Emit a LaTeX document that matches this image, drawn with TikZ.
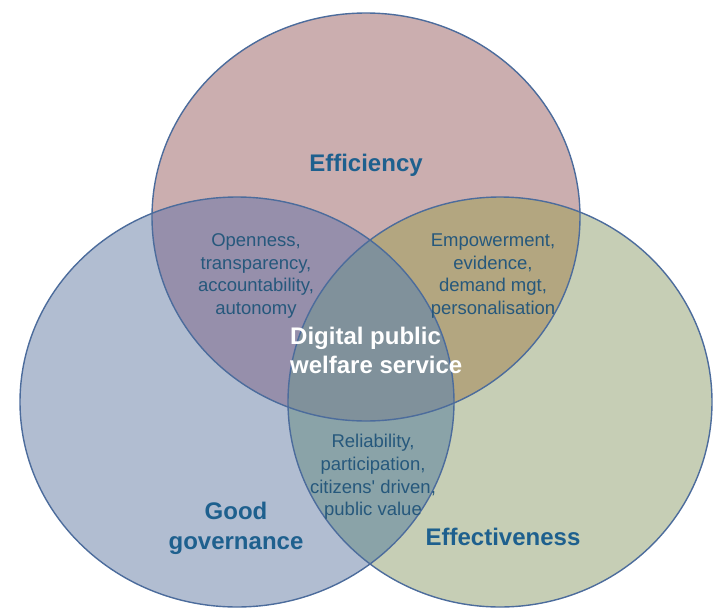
\documentclass[tikz,border=0pt]{standalone}
\usepackage{fontspec}
\setmainfont{Liberation Sans}
\definecolor{cT}{RGB}{203,174,175}
\definecolor{cL}{RGB}{177,189,209}
\definecolor{cR}{RGB}{198,206,181}
\definecolor{cTL}{RGB}{150,143,171}
\definecolor{cTR}{RGB}{179,166,128}
\definecolor{cLR}{RGB}{138,163,168}
\definecolor{cC}{RGB}{128,145,155}
\definecolor{edge}{RGB}{76,108,156}
\definecolor{head}{RGB}{30,96,142}
\definecolor{small}{RGB}{38,88,124}
\tikzset{
  outline/.style={draw=edge, line width=1.4pt},
  headtxt/.style={text=head, font=\fontsize{24}{30}\selectfont\bfseries, align=center, inner sep=0pt},
  smalltxt/.style={text=small, font=\fontsize{18.5}{22.6}\selectfont, align=center, inner sep=0pt},
  centertxt/.style={text=white, font=\fontsize{24}{29}\selectfont\bfseries, align=left, inner sep=0pt}
}
\begin{document}
\begin{tikzpicture}[x=1pt,y=-1pt]
\useasboundingbox (0,0) rectangle (713,608);
% base fills
\fill[cT] (366,217) ellipse [x radius=214, y radius=204];
\fill[cL] (237,402) ellipse [x radius=217, y radius=205];
\fill[cR] (500,402) ellipse [x radius=212, y radius=205];
% pairwise overlaps
\begin{scope}
  \clip (366,217) ellipse [x radius=214, y radius=204];
  \fill[cTL] (237,402) ellipse [x radius=217, y radius=205];
\end{scope}
\begin{scope}
  \clip (366,217) ellipse [x radius=214, y radius=204];
  \fill[cTR] (500,402) ellipse [x radius=212, y radius=205];
\end{scope}
\begin{scope}
  \clip (237,402) ellipse [x radius=217, y radius=205];
  \fill[cLR] (500,402) ellipse [x radius=212, y radius=205];
\end{scope}
\begin{scope}
  \clip (366,217) ellipse [x radius=214, y radius=204];
  \clip (237,402) ellipse [x radius=217, y radius=205];
  \fill[cC] (500,402) ellipse [x radius=212, y radius=205];
\end{scope}
% outlines
\draw[outline] (366,217) ellipse [x radius=214, y radius=204];
\draw[outline] (237,402) ellipse [x radius=217, y radius=205];
\draw[outline] (500,402) ellipse [x radius=212, y radius=205];
% labels
\node[headtxt] (eff) at (366,165) {Efficiency};
\node[headtxt] (gov) at (236,528) {Good\\governance};
\node[headtxt] (effect) at (503,537) {Effectiveness};
\node[smalltxt] (open) at (256,276) {Openness,\\transparency,\\accountability,\\autonomy};
\node[smalltxt] (emp) at (493,276) {Empowerment,\\evidence,\\demand mgt,\\personalisation};
\node[smalltxt] (rel) at (373,477) {Reliability,\\participation,\\citizens\textquotesingle\ driven,\\public value};
\node[centertxt, anchor=west] (dig) at (290,350) {Digital public\\welfare service};
\end{tikzpicture}
\end{document}
